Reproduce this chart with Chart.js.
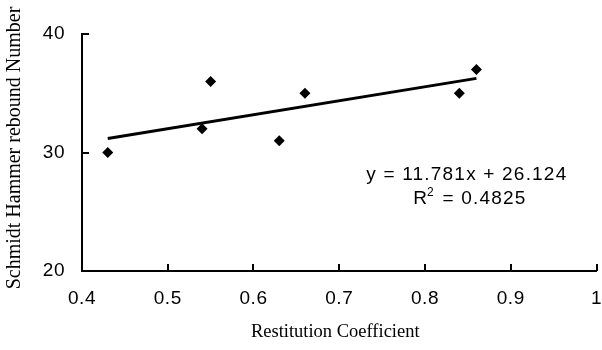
<!DOCTYPE html>
<html>
<head>
<meta charset="utf-8">
<script src="https://cdn.jsdelivr.net/npm/chart.js@4/dist/chart.umd.min.js"></script>
<style>
  html, body { margin: 0; padding: 0; background: #fff; }
  #wrap { width: 602px; height: 350px; }
</style>
</head>
<body>
<div id="wrap"><canvas id="c" width="602" height="350"></canvas></div>
<script>
// ---- data ----
const restitution = [0.43, 0.54, 0.55, 0.63, 0.66, 0.84, 0.86];
const rebound     = [30, 32, 36, 31, 35, 35, 37];
const xTicks = [0.4, 0.5, 0.6, 0.7, 0.8, 0.9, 1];
const yTicks = [20, 30, 40];
const trendSlope = 11.781;
const trendIntercept = 26.124;
const rSquared = '0.4825';
const xTitle = 'Restitution Coefficient';
const yTitle = 'Schmidt Hammer rebound Number';

const points = restitution.map((x, i) => ({ x: x, y: rebound[i] }));
const xMinData = Math.min(...restitution), xMaxData = Math.max(...restitution);
const trend = [xMinData, xMaxData].map(x => ({ x: x, y: trendSlope * x + trendIntercept }));

const tickFont = { family: '"Liberation Sans", Arial, sans-serif', size: 19 };

const custom = {
  id: 'custom',
  beforeDraw(chart) { chart.ctx.letterSpacing = '0.5px'; },
  afterDraw(chart) {
    const ctx = chart.ctx, ca = chart.chartArea;
    const xs = chart.scales.x, ys = chart.scales.y;
    ctx.save();
    ctx.letterSpacing = '0px';
    ctx.strokeStyle = '#000';
    ctx.lineWidth = 2;
    ctx.beginPath();
    xs.ticks.forEach(t => {
      if (t.value === xs.min) return;
      const px = Math.round(xs.getPixelForValue(t.value));
      ctx.moveTo(px, ca.bottom); ctx.lineTo(px, ca.bottom - 7);
    });
    ys.ticks.forEach(t => {
      if (t.value === ys.min) return;
      const py = Math.round(ys.getPixelForValue(t.value));
      ctx.moveTo(ca.left, py); ctx.lineTo(ca.left + 7, py);
    });
    ctx.stroke();

    ctx.fillStyle = '#000';
    // x title
    ctx.font = '18.5px "Liberation Serif", "Times New Roman", serif';
    ctx.textAlign = 'center';
    ctx.textBaseline = 'alphabetic';
    ctx.fillText(xTitle, (ca.left + ca.right) / 2 - 4, 337);
    // y title
    ctx.save();
    ctx.font = '20px "Liberation Serif", "Times New Roman", serif';
    ctx.translate(20, 148);
    ctx.rotate(-Math.PI / 2);
    ctx.fillText(yTitle, 0, 0);
    ctx.restore();

    // equation annotation
    const w = ca.right - ca.left, h = ca.bottom - ca.top;
    const cx = ca.left + 0.748 * w;
    const y1 = ca.top + 0.618 * h;
    const y2 = y1 + 24;
    const big = '19px "Liberation Sans", Arial, sans-serif';
    const small = '12px "Liberation Sans", Arial, sans-serif';
    ctx.letterSpacing = '1.2px';
    ctx.font = big;
    ctx.textAlign = 'center';
    ctx.fillText('y = ' + trendSlope + 'x + ' + trendIntercept, cx, y1);
    ctx.textAlign = 'left';
    const wR = ctx.measureText('R').width;
    const rest = ' = ' + rSquared;
    const wRest = ctx.measureText(rest).width;
    ctx.font = small;
    const w2 = ctx.measureText('2').width;
    const total = wR + w2 + wRest;
    let sx = cx + 3 - total / 2;
    ctx.font = big;
    ctx.fillText('R', sx, y2);
    ctx.font = small;
    ctx.fillText('2', sx + wR - 1, y2 - 8);
    ctx.font = big;
    ctx.fillText(rest, sx + wR + w2, y2);
    ctx.restore();
  }
};

new Chart(document.getElementById('c'), {
  type: 'scatter',
  data: {
    datasets: [
      {
        type: 'line',
        data: trend,
        borderColor: '#000',
        borderWidth: 3,
        pointRadius: 0,
        fill: false,
        order: 2
      },
      {
        type: 'scatter',
        data: points,
        pointStyle: 'rectRot',
        pointRadius: 5.5,
        backgroundColor: '#000',
        borderColor: '#000',
        borderWidth: 0,
        order: 1
      }
    ]
  },
  options: {
    responsive: false,
    devicePixelRatio: 1,
    animation: false,
    events: [],
    layout: { padding: { top: 34, right: 4, left: 0, bottom: 0 } },
    plugins: { legend: { display: false }, tooltip: { enabled: false } },
    scales: {
      x: {
        type: 'linear',
        min: 0.4, max: 1,
        afterBuildTicks(s) { s.ticks = xTicks.map(v => ({ value: v })); },
        afterFit(s) { s.height = 79; s.paddingLeft = 0; s.paddingRight = 0; },
        grid: { display: true, drawOnChartArea: false, drawTicks: false },
        border: { display: true, color: '#000', width: 2 },
        ticks: { color: '#000', font: tickFont, padding: 16, maxRotation: 0, autoSkip: false,
                 callback: v => String(+v.toFixed(1)) }
      },
      y: {
        type: 'linear',
        min: 20, max: 40,
        afterBuildTicks(s) { s.ticks = yTicks.map(v => ({ value: v })); },
        afterFit(s) { s.width = 82; s.paddingTop = 0; s.paddingBottom = 0; },
        grid: { display: true, drawOnChartArea: false, drawTicks: false },
        border: { display: true, color: '#000', width: 2 },
        ticks: { color: '#000', font: tickFont, padding: 17, autoSkip: false }
      }
    }
  },
  plugins: [custom]
});
</script>
</body>
</html>
